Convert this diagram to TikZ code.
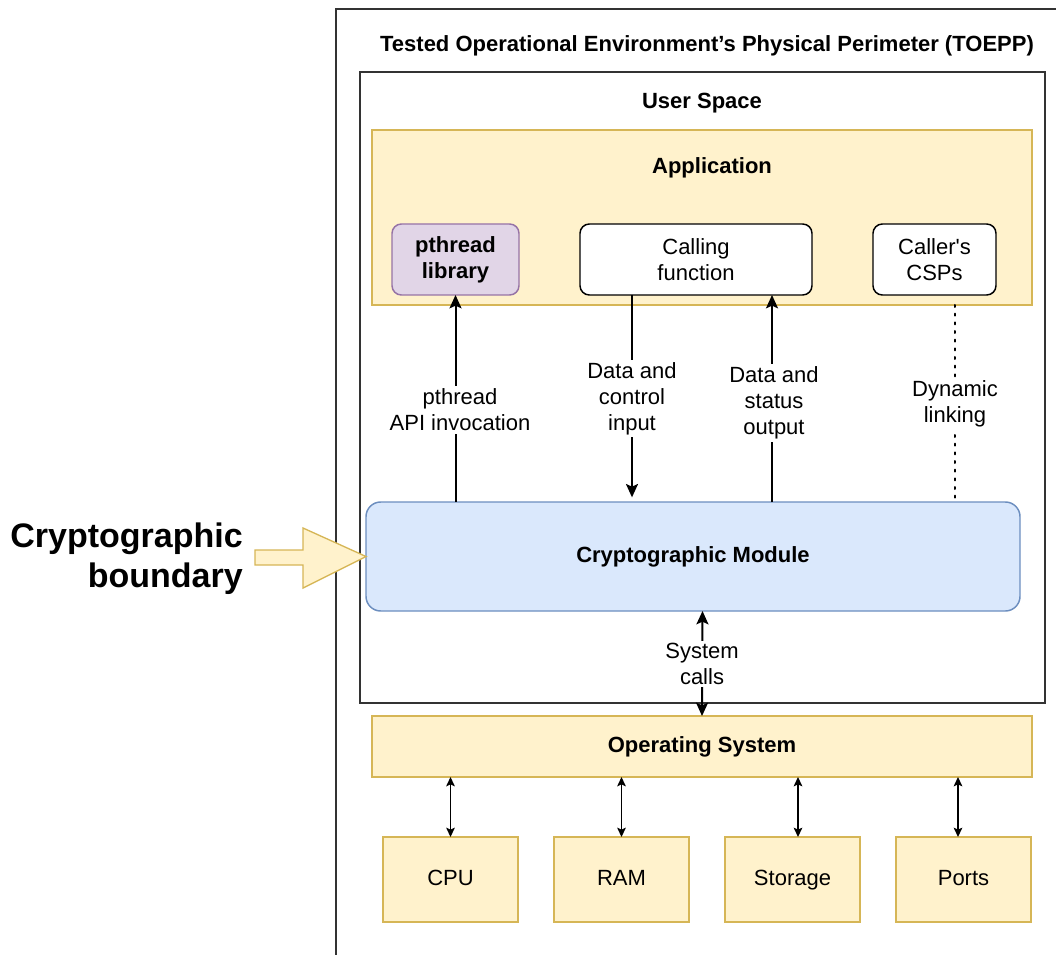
\documentclass[tikz,border=0pt]{standalone}
\usepackage{fontspec}
\setmainfont{Liberation Sans}[Ligatures=TeXOff]
\usetikzlibrary{arrows.meta,calc}
\definecolor{yfill}{HTML}{FFF2CC}
\definecolor{ydraw}{HTML}{D6B656}
\definecolor{pfill}{HTML}{E1D5E7}
\definecolor{pdraw}{HTML}{9673A6}
\definecolor{bfill}{HTML}{DAE8FC}
\definecolor{bdraw}{HTML}{6C8EBF}
\definecolor{gline}{HTML}{333333}
\tikzset{
  sz/.style 2 args={minimum width=#1*0.75pt,minimum height=#2*0.75pt,inner sep=0pt,outer sep=0pt},
  ybox/.style={draw=ydraw,fill=yfill,line width=1.1pt},
  wbox/.style={draw=black,fill=white,rounded corners=7pt,line width=1.1pt},
  pbox/.style={draw=pdraw,fill=pfill,rounded corners=7pt,line width=1.1pt},
  cbox/.style={draw=bdraw,fill=bfill,rounded corners=11pt,line width=1.1pt},
  frame/.style={draw=gline,line width=1.1pt},
  txt/.style={font=\fontsize{16.5}{19.5}\selectfont,align=center,inner sep=1pt},
  btxt/.style={font=\fontsize{16.5}{19.5}\selectfont\bfseries,align=center,inner sep=1pt},
  one/.style={text height=12pt,text depth=3.5pt},
  lbl/.style={txt,fill=white,inner sep=2pt},
  hd/.tip={Stealth[length=10pt,width=9pt,inset=2pt]},
  shd/.tip={Stealth[length=7pt,width=6.5pt,inset=1.5pt]},
  arr/.style={-{hd},line width=1.5pt},
  darr/.style={{hd}-{hd},line width=1.5pt},
  sarr/.style={{shd}-{shd},line width=1pt},
  dotl/.style={line width=1.5pt,dash pattern=on 1.5pt off 5pt,line cap=round},
}
\begin{document}
\begin{tikzpicture}[x=0.75pt,y=-0.75pt]
\useasboundingbox (0,0) rectangle (1056,955);
% outer perimeter
\draw[frame] (1060,9) -- (336,9) -- (336,960);
\node[btxt] (toepp) at (707,46) {Tested Operational Environment’s Physical Perimeter (TOEPP)};
% user space
\node[frame,sz={685}{631}] (us) at (702.5,387.5) {};
\node[btxt] (uslbl) at (702,103) {User Space};
% application
\node[ybox,sz={660}{175}] (app) at (702,217.5) {};
\node[btxt] (applbl) at (712,168) {Application};
\node[pbox,sz={127}{71},btxt] (pth) at (455.5,259.5) {pthread\\library};
\node[wbox,sz={232}{71},txt] (call) at (696,259.5) {Calling\\function};
\node[wbox,sz={123}{71},txt] (csp) at (934.5,259.5) {Caller's\\CSPs};
% crypto module
\node[cbox,sz={654}{109},btxt,one] (cm) at (693,556.5) {Cryptographic Module};
% OS
\node[ybox,sz={660}{61},btxt,one] (os) at (702,746.5) {Operating System};
\node[ybox,sz={135}{85},txt,one] (cpu) at (450.5,879.5) {CPU};
\node[ybox,sz={135}{85},txt,one] (ram) at (621.5,879.5) {RAM};
\node[ybox,sz={135}{85},txt,one] (sto) at (792.5,879.5) {Storage};
\node[ybox,sz={135}{85},txt,one] (prt) at (963.5,879.5) {Ports};
% connectors
\draw[arr] (cm.north -| pth.south) -- (pth.south);
\node[lbl] (l1) at (460,410) {pthread\\API invocation};
\draw[arr] ([xshift=-64*0.75pt]call.south) -- ([xshift=-64*0.75pt,yshift=3.5pt]cm.north -| call.south);
\node[lbl] (l2) at (632,398.5) {Data and\\control\\input};
\draw[arr] ([xshift=76*0.75pt]cm.north -| call.south) -- ([xshift=76*0.75pt]call.south);
\node[lbl] (l3) at (774,403) {Data and\\status\\output};
\draw[dotl] ([xshift=20.5*0.75pt]app.south -| csp.south) -- ([xshift=20.5*0.75pt]cm.north -| csp.south);
\node[lbl] (l4) at (955,404) {Dynamic\\linking};
\draw[darr] (cm.south -| us.south) -- (os.north);
\node[lbl] (l5) at (702,664) {System\\calls};
\draw[sarr] (os.south -| cpu.north) -- (cpu.north);
\draw[sarr] (os.south -| ram.north) -- (ram.north);
\draw[sarr] ([xshift=5.5*0.75pt]os.south -| sto.north) -- ([xshift=5.5*0.75pt]sto.north);
\draw[sarr] ([xshift=-5.5*0.75pt]os.south -| prt.north) -- ([xshift=-5.5*0.75pt]prt.north);
% cryptographic boundary
\node[font=\fontsize{25.5}{30}\selectfont\bfseries,align=right,anchor=east,inner sep=0pt] (cb) at (243,559) {Cryptographic\\boundary};
\coordinate (tip) at (cm.west);
\draw[ybox,line width=1pt,line join=miter] (255,550) -- (303,550) -- (303,528) -- (tip) -- (303,588) -- (303,565) -- (255,565) -- cycle;
\end{tikzpicture}
\end{document}
